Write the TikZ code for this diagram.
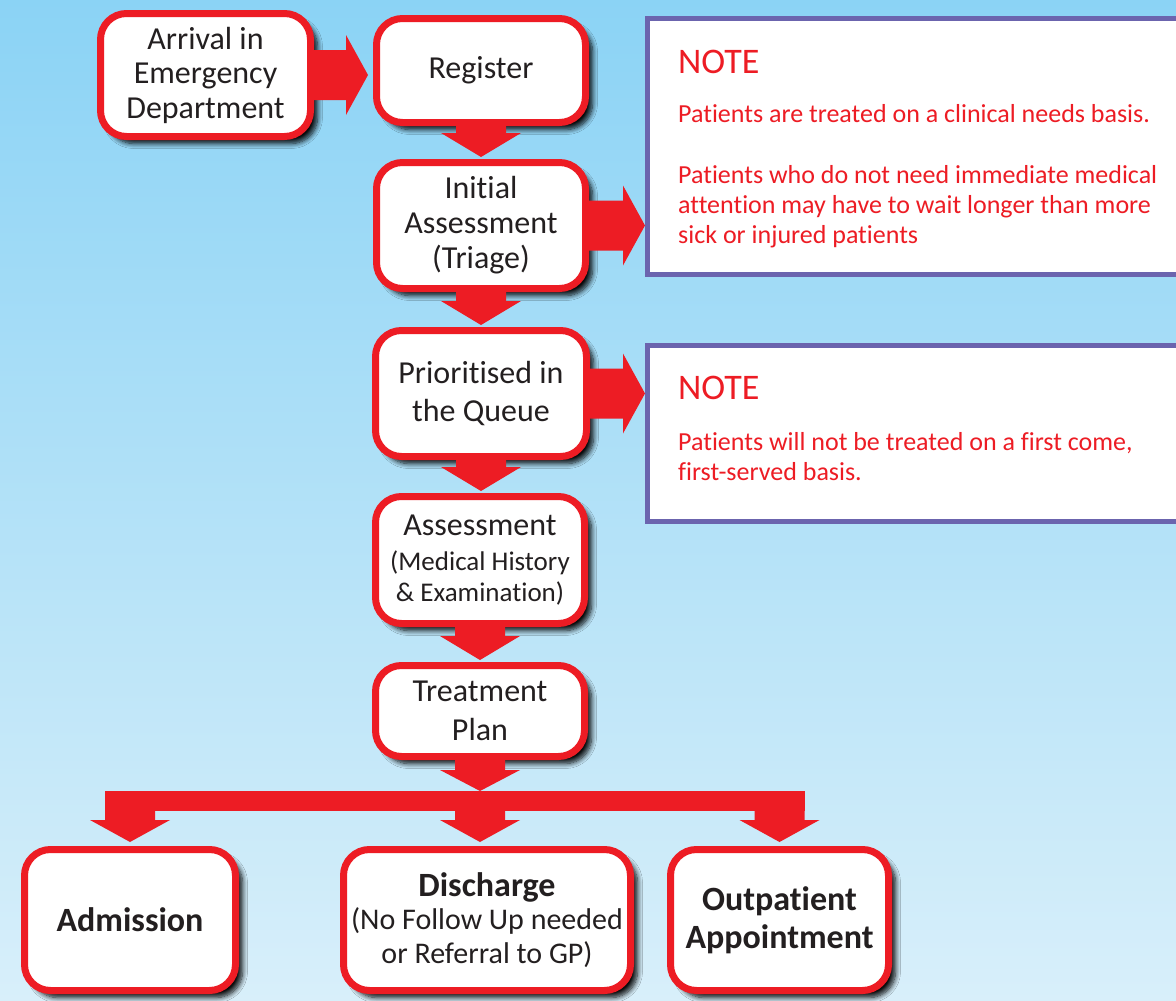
\documentclass[tikz,border=0pt]{standalone}
\usepackage{fontspec}
\setmainfont[Ligatures={NoCommon,NoContextual}]{Carlito}
\usetikzlibrary{calc,shadows.blur}
\definecolor{ered}{HTML}{ED1C24}
\definecolor{npurple}{HTML}{6B64AE}
\definecolor{ink}{HTML}{231F20}
\definecolor{bgtop}{HTML}{8BD3F5}
\definecolor{bgbot}{HTML}{D8EFFA}
\tikzset{
  stepbox/.style={draw=ered, line width=7pt, fill=white, rounded corners=26pt,
    align=center, text=ink, inner sep=0pt,
    blur shadow={shadow xshift=7pt, shadow yshift=-7pt, shadow blur radius=5pt,
      shadow opacity=95, shadow blur steps=8}},
  notebox/.style={draw=npurple, line width=5pt, fill=white, inner sep=0pt,
    anchor=north west, minimum width=555pt},
  notehead/.style={anchor=base west, text=ered, inner sep=0pt,
    font=\fontsize{36}{40}\selectfont},
  notetext/.style={anchor=base west, text=ered, inner sep=0pt,
    font=\fontsize{26}{30}\selectfont},
  blk/.style={fill=ered},
}
\newcommand\blkdown[2]{%
  \fill[blk] let \p1=(#1.south), \p2=(#2.north) in
    (\x1-25pt,\y1+2pt) -- (\x1+25pt,\y1+2pt) -- (\x1+25pt,\y2+26pt) --
    (\x1+40pt,\y2+26pt) -- (\x1,\y2+2pt) -- (\x1-40pt,\y2+26pt) --
    (\x1-25pt,\y2+26pt) -- cycle;}
\newcommand\blkright[3]{%
  \fill[blk] let \p1=(#1.east), \p2=(#2.west) in
    (\x1-2pt,\y1+25pt) -- (\x2-#3-22pt,\y1+25pt) -- (\x2-#3-22pt,\y1+40pt) --
    (\x2-#3,\y1) -- (\x2-#3-22pt,\y1-40pt) -- (\x2-#3-22pt,\y1-25pt) --
    (\x1-2pt,\y1-25pt) -- cycle;}
\begin{document}
\begin{tikzpicture}[x=1pt,y=-1pt]
\useasboundingbox (0,0) rectangle (1176,1001);
\clip (0,0) rectangle (1176,1001);
\shade[top color=bgtop, bottom color=bgbot] (0,0) rectangle (1176,1001);

% note boxes
\node[notebox, minimum height=256pt] (note1) at (645,16) {};
\node[notebox, minimum height=176pt] (note2) at (645,343) {};
\node[notehead] (n1h) at (678,73) {NOTE};
\node[notetext] (n1a) at (678,122) {Patients are treated on a clinical needs basis.};
\node[notetext] (n1b) at (678,183) {Patients who do not need immediate medical};
\node[notetext] (n1c) at (678,213) {attention may have to wait longer than more};
\node[notetext] (n1d) at (678,243) {sick or injured patients};
\node[notehead] (n2h) at (678,399) {NOTE};
\node[notetext] (n2a) at (678,450) {Patients will not be treated on a first come,};
\node[notetext] (n2b) at (678,480) {first-served basis.};

% steps
\node[stepbox, minimum width=210pt, minimum height=123pt,
  font=\fontsize{32}{34.5}\selectfont] (arr) at (205.5,75)
  {Arrival in\\Emergency\\Department};
\node[stepbox, minimum width=209pt, minimum height=104pt,
  font=\fontsize{32}{35}\selectfont] (reg) at (481,70.5) {\raisebox{-3pt}{Register}};
\node[stepbox, minimum width=209pt, minimum height=126pt,
  font=\fontsize{32}{35}\selectfont] (tri) at (481,225.5)
  {Initial\\Assessment\\(Triage)};
\node[stepbox, minimum width=211pt, minimum height=126pt,
  font=\fontsize{32}{38}\selectfont] (pri) at (481,393.5)
  {Prioritised in\\the Queue};
\node[stepbox, minimum width=209pt, minimum height=127pt,
  font=\fontsize{32}{35}\selectfont] (ass) at (480,560)
  {Assessment\\{\fontsize{27}{31}\selectfont (Medical History}\\[-4pt]{\fontsize{27}{31}\selectfont \& Examination)}};
\node[stepbox, minimum width=209pt, minimum height=91pt,
  font=\fontsize{32}{39}\selectfont] (tre) at (480,711)
  {Treatment\\Plan};
\node[stepbox, minimum width=211pt, minimum height=141pt,
  font=\fontsize{34}{38}\selectfont\bfseries] (adm) at (130,920) {Admission};
\node[stepbox, minimum width=287pt, minimum height=141pt,
  font=\fontsize{30}{33.5}\selectfont] (dis) at (487,920)
  {{\fontsize{34}{34}\selectfont\bfseries Discharge}\\(No Follow Up needed\\or Referral to GP)};
\node[stepbox, minimum width=218pt, minimum height=141pt,
  font=\fontsize{34}{38}\selectfont\bfseries] (out) at (779.5,920)
  {Outpatient\\Appointment};

% connectors
\blkright{arr}{reg}{5pt}
\blkright{tri}{note1}{0pt}
\blkright{pri}{note2}{0pt}
\blkdown{reg}{tri}
\blkdown{tri}{pri}
\blkdown{pri}{ass}
\blkdown{ass}{tre}
\fill[blk] let \p1=(tre.south), \p2=(adm.north) in
  (\x1-25pt,\y1+2pt) -- (\x1+25pt,\y1+2pt) -- (\x1+25pt,\y2+76pt) --
  (\x1+40pt,\y2+76pt) -- (\x1,\y2+55pt) -- (\x1-40pt,\y2+76pt) --
  (\x1-25pt,\y2+76pt) -- cycle;
\fill[blk] let \p2=(adm.north), \p4=(out.north) in
  (\x2-25pt,\y2+55pt) rectangle (\x4+25pt,\y2+35pt);
\fill[blk] let \p2=(adm.north) in
  (\x2-25pt,\y2+36pt) -- (\x2+25pt,\y2+36pt) -- (\x2+25pt,\y2+26pt) --
  (\x2+40pt,\y2+26pt) -- (\x2,\y2+4pt) -- (\x2-40pt,\y2+26pt) --
  (\x2-25pt,\y2+26pt) -- cycle;
\fill[blk] let \p1=(tre.south), \p2=(dis.north) in
  (\x1-25pt,\y2+36pt) -- (\x1+25pt,\y2+36pt) -- (\x1+25pt,\y2+26pt) --
  (\x1+40pt,\y2+26pt) -- (\x1,\y2+4pt) -- (\x1-40pt,\y2+26pt) --
  (\x1-25pt,\y2+26pt) -- cycle;
\fill[blk] let \p2=(out.north) in
  (\x2-25pt,\y2+36pt) -- (\x2+25pt,\y2+36pt) -- (\x2+25pt,\y2+26pt) --
  (\x2+40pt,\y2+26pt) -- (\x2,\y2+4pt) -- (\x2-40pt,\y2+26pt) --
  (\x2-25pt,\y2+26pt) -- cycle;
\end{tikzpicture}
\end{document}
